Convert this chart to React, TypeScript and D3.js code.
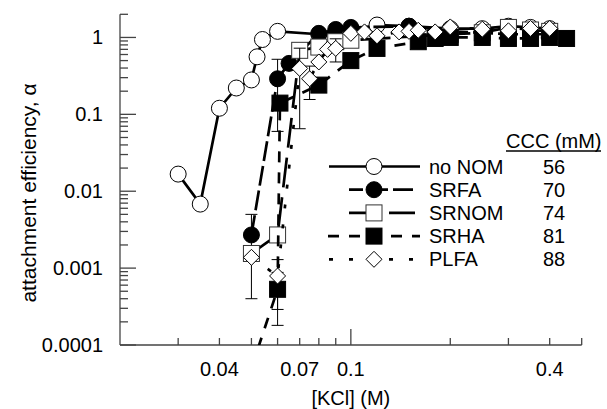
import React from "react";
import * as d3 from "d3";

const noNomX = [0.03, 0.035, 0.04, 0.045, 0.05, 0.052, 0.054, 0.06, 0.08, 0.1, 0.12, 0.15, 0.2, 0.25, 0.3, 0.35, 0.4];
const noNomY = [0.0167, 0.0068, 0.12, 0.22, 0.28, 0.56, 0.94, 1.2, 1.1, 1.25, 1.45, 1.4, 1.3, 1.3, 1.4, 1.35, 1.3];

const srfaX = [0.05, 0.06, 0.065, 0.08, 0.09, 0.1, 0.15, 0.2, 0.25, 0.3, 0.35, 0.4];
const srfaY = [0.0027, 0.29, 0.46, 1.13, 1.27, 1.35, 1.4, 1.2, 1.15, 1.1, 1.1, 1.1];

const srnomX = [0.05, 0.06, 0.07, 0.08, 0.09, 0.1, 0.2, 0.25, 0.3, 0.35, 0.4];
const srnomY = [0.00155, 0.0027, 0.68, 0.75, 0.88, 0.92, 1.1, 1.15, 1.35, 1.25, 1.2];

const srhaX = [0.05, 0.06, 0.061, 0.08, 0.1, 0.12, 0.16, 0.18, 0.2, 0.25, 0.3, 0.35, 0.4, 0.45];
const srhaY = [0.00005, 0.00053, 0.14, 0.24, 0.5, 0.72, 0.88, 0.97, 1.0, 1.0, 0.97, 0.97, 1.0, 0.97];

const plfaX = [0.05, 0.06, 0.07, 0.075, 0.08, 0.085, 0.09, 0.1, 0.11, 0.12, 0.14, 0.15, 0.16, 0.18, 0.2, 0.25, 0.3, 0.35, 0.4];
const plfaY = [0.00138, 0.00079, 0.395, 0.29, 0.48, 0.7, 0.72, 1.13, 1.18, 1.05, 1.18, 1.2, 1.24, 1.18, 1.37, 1.28, 1.22, 1.31, 1.31];

// error bars
const errSeries = ["SRFA", "SRFA", "PLFA", "SRHA", "PLFA", "PLFA", "PLFA", "SRNOM"];
const errX = [0.05, 0.06, 0.06, 0.06, 0.07, 0.075, 0.09, 0.3];
const errY = [0.0027, 0.29, 0.00079, 0.00053, 0.395, 0.29, 0.72, 1.35];
const errE = [0.0023, 0.23, 0.0005, 0.00035, 0.33, 0.134, 0.24, 0.35];

const legendNames = ["no NOM", "SRFA", "SRNOM", "SRHA", "PLFA"];
const cccValues = ["56", "70", "74", "81", "88"];

const xMinorTicks = [0.03, 0.04, 0.05, 0.06, 0.07, 0.08, 0.09, 0.2, 0.3, 0.4, 0.5];
const xMajorTicks = [0.1];
const xTickLabels = [0.04, 0.07, 0.1, 0.4];
const yMajorTicks = [0.0001, 0.001, 0.01, 0.1, 1];
const yTickLabels = ["0.0001", "0.001", "0.01", "0.1", "1"];

const FONT = "'Liberation Sans', Arial, Helvetica, sans-serif";

type Marker = "openCircle" | "filledCircle" | "openSquare" | "filledSquare" | "diamond";

interface SeriesDef {
  name: string;
  xs: number[];
  ys: number[];
  marker: Marker;
  dash: string | undefined;
  legStart: number;
  legEnd: number;
  legOffset: number;
}

const series: SeriesDef[] = [
  { name: "no NOM", xs: noNomX, ys: noNomY, marker: "openCircle", dash: undefined, legStart: 329, legEnd: 420, legOffset: 0 },
  { name: "SRFA", xs: srfaX, ys: srfaY, marker: "filledCircle", dash: "20,5", legStart: 349, legEnd: 413, legOffset: 6 },
  { name: "SRNOM", xs: srnomX, ys: srnomY, marker: "openSquare", dash: "30,10", legStart: 349, legEnd: 415, legOffset: 0 },
  { name: "SRHA", xs: srhaX, ys: srhaY, marker: "filledSquare", dash: "11,10", legStart: 328, legEnd: 420, legOffset: 0 },
  { name: "PLFA", xs: plfaX, ys: plfaY, marker: "diamond", dash: "4,16", legStart: 329, legEnd: 418, legOffset: 0 },
];

function MarkerShape({ type, cx, cy }: { type: Marker; cx: number; cy: number }) {
  const r = 8;
  switch (type) {
    case "openCircle":
      return <circle cx={cx} cy={cy} r={r} fill="#fff" stroke="#000" strokeWidth={1} />;
    case "filledCircle":
      return <circle cx={cx} cy={cy} r={r} fill="#000" stroke="#000" strokeWidth={1} />;
    case "openSquare":
      return <rect x={cx - r} y={cy - r} width={2 * r} height={2 * r} fill="#fff" stroke="#333" strokeWidth={1} />;
    case "filledSquare":
      return <rect x={cx - r} y={cy - r} width={2 * r} height={2 * r} fill="#000" stroke="#000" strokeWidth={1} />;
    case "diamond":
      return (
        <path
          d={`M${cx},${cy - r}L${cx + r},${cy}L${cx},${cy + r}L${cx - r},${cy}Z`}
          fill="#fff"
          stroke="#000"
          strokeWidth={1}
        />
      );
  }
}

export default function App() {
  const W = 607;
  const H = 409;
  const left = 120;
  const right = 581.7;
  const top = 14.3;
  const bottom = 345;

  const x = d3.scaleLog().domain([0.02, 0.5]).range([left, right]);
  const y = d3.scaleLog().domain([0.0001, 2]).range([bottom, top]);

  const line = d3
    .line<[number, number]>()
    .x((d) => x(d[0]))
    .y((d) => y(d[1]));

  const yMinor: number[] = [];
  for (let e = -4; e <= 0; e++) {
    for (let m = 2; m <= 9; m++) {
      const v = m * Math.pow(10, e);
      if (v <= 2.0001) yMinor.push(v);
    }
  }

  const legMarkX = 374;
  const legTextX = 429;
  const legY0 = 166.5;
  const legDy = 23.2;

  return (
    <svg width={W} height={H} style={{ display: "block", position: "absolute", left: 0, top: 0 }} fontFamily={FONT}>
      <rect x={0} y={0} width={W} height={H} fill="#fff" />
      <defs>
        <clipPath id="plotClip">
          <rect x={left} y={top - 10} width={right - left + 10} height={bottom - top + 10} />
        </clipPath>
      </defs>

      {/* axes */}
      <g stroke="#444" strokeWidth={1.3} fill="none">
        <line x1={left} y1={top} x2={left} y2={bottom} />
        <line x1={left} y1={bottom} x2={right} y2={bottom} />
        {yMajorTicks.map((v) => (
          <line key={"ym" + v} x1={left} x2={left + 16} y1={y(v)} y2={y(v)} />
        ))}
        {yMinor.map((v) => (
          <line key={"yn" + v} x1={left} x2={left + 8} y1={y(v)} y2={y(v)} />
        ))}
        {xMinorTicks.map((v) => (
          <line key={"xn" + v} x1={x(v)} x2={x(v)} y1={bottom} y2={bottom - 7} />
        ))}
        {xMajorTicks.map((v) => (
          <line key={"xm" + v} x1={x(v)} x2={x(v)} y1={bottom} y2={bottom - 16} />
        ))}
      </g>

      {/* tick labels and titles */}
      <g fontSize={20} fill="#000">
        {yMajorTicks.map((v, i) => (
          <text key={"yl" + v} x={103} y={y(v)} dy="0.35em" textAnchor="end">
            {yTickLabels[i]}
          </text>
        ))}
        {xTickLabels.map((v) => (
          <text key={"xl" + v} x={x(v)} y={376} textAnchor="middle">
            {String(v)}
          </text>
        ))}
        <text x={(left + right) / 2} y={405} textAnchor="middle">
          [KCl] (M)
        </text>
        <text transform="translate(36,193) rotate(-90)" textAnchor="middle" fontSize={21}>
          attachment efficiency, α
        </text>
      </g>

      {/* data */}
      <g clipPath="url(#plotClip)">
        {series.map((s) => {
          const pts: [number, number][] = s.xs.map((xv, i) => [xv, s.ys[i]]);
          const errIdx = errSeries.map((n, i) => (n === s.name ? i : -1)).filter((i) => i >= 0);
          return (
            <g key={s.name}>
              <path d={line(pts) || ""} fill="none" stroke="#000" strokeWidth={2.7} strokeDasharray={s.dash} />
              {errIdx.map((i) => {
                const cx = x(errX[i]);
                const hi = errY[i] + errE[i];
                const lo = Math.max(errY[i] - errE[i], 1e-6);
                return (
                  <g key={"e" + i} stroke="#000" strokeWidth={1}>
                    <line x1={cx} x2={cx} y1={y(hi)} y2={y(lo)} />
                    <line x1={cx - 6} x2={cx + 6} y1={y(hi)} y2={y(hi)} />
                    <line x1={cx - 6} x2={cx + 6} y1={y(lo)} y2={y(lo)} />
                  </g>
                );
              })}
              {pts.map((p, i) => (
                <MarkerShape key={i} type={s.marker} cx={x(p[0])} cy={y(p[1])} />
              ))}
            </g>
          );
        })}
      </g>

      {/* legend */}
      <g>
        {series.map((s, i) => {
          const ly = legY0 + i * legDy;
          return (
            <g key={"leg" + s.name}>
              <line
                x1={s.legStart}
                x2={s.legEnd}
                y1={ly}
                y2={ly}
                stroke="#000"
                strokeWidth={2.7}
                strokeDasharray={s.dash}
                strokeDashoffset={s.legOffset}
              />
              <MarkerShape type={s.marker} cx={legMarkX} cy={ly} />
              <text x={legTextX} y={ly} dy="0.35em" fontSize={20}>
                {legendNames[i]}
              </text>
              <text x={543} y={ly} dy="0.35em" fontSize={20}>
                {cccValues[i]}
              </text>
            </g>
          );
        })}
        <text x={506} y={148} fontSize={20}>
          CCC (mM)
        </text>
        <line x1={506} x2={601} y1={151} y2={151} stroke="#000" strokeWidth={1.5} />
      </g>
    </svg>
  );
}
